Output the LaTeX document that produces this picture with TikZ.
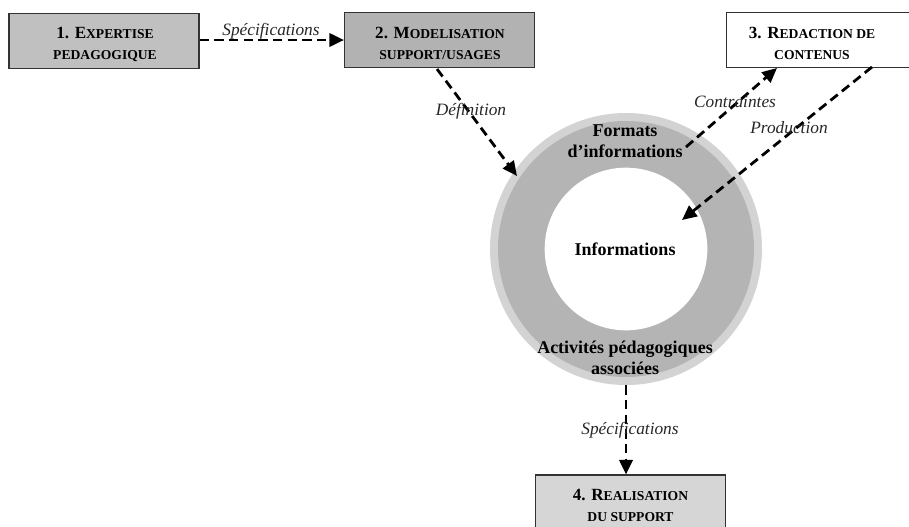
\documentclass[tikz,border=0pt]{standalone}
\usepackage{fontspec}
\setmainfont{Liberation Serif}
\usetikzlibrary{arrows.meta}
\newcommand\smc[1]{{\fontsize{10.2}{11}\selectfont #1}}
\definecolor{boxa}{HTML}{C0C0C0}
\definecolor{boxb}{HTML}{B2B2B2}
\definecolor{boxd}{HTML}{D6D6D6}
\definecolor{ringout}{HTML}{D3D3D3}
\definecolor{ringin}{HTML}{B4B4B4}
\definecolor{edgegray}{HTML}{333333}
\tikzset{
  stagebox/.style={draw=edgegray, line width=0.8pt, minimum width=142.5pt, minimum height=41.5pt,
    inner sep=0pt},
  stagetext/.style={align=center, inner sep=0pt, font=\fontsize{12.8}{15.8}\selectfont\bfseries},
  ringtext/.style={align=center, font=\fontsize{13.5}{15.5}\selectfont\bfseries, inner sep=0pt},
  flowlabel/.style={font=\fontsize{13}{14}\selectfont\itshape, text=black!85, inner sep=0pt},
  flowarrow/.style={draw=black, line width=2.1pt, dash pattern=on 7pt off 4pt,
    -{Triangle[length=11pt,width=10pt]}},
}
\begin{document}
\begin{tikzpicture}[x=0.75pt,y=-0.75pt]
\useasboundingbox (0,0) rectangle (909,526);
\clip (0,0) rectangle (909,526);
% ring
\fill[ringout] (626,249) circle (102pt);
\fill[ringin] (626,249) circle (96pt);
\fill[white] (626,249) circle (61pt);
\node[circle, minimum size=204pt, inner sep=0pt] (ring) at (626,249) {};
\node[ringtext] (formats) at (625,141) {Formats\\d’informations};
\node[ringtext] (infos) at (625,249) {Informations};
\node[ringtext] (activ) at (625,358) {Activités pédagogiques\\associées};
% boxes
\node[stagebox, fill=boxa] (b1) at (104,41) {};
\node[stagetext] (b1t) at (105,44.5) {1. E\smc{XPERTISE}\\\smc{PEDAGOGIQUE}};
\node[stagebox, fill=boxb] (b2) at (439.5,40) {};
\node[stagetext] (b2t) at (440,43) {2. M\smc{ODELISATION}\\\smc{SUPPORT/USAGES}};
\node[stagebox, fill=white, minimum width=145pt] (b3) at (823,40) {};
\node[stagetext] (b3t) at (812,43) {3. R\smc{EDACTION DE}\\\smc{CONTENUS}};
\node[stagebox, fill=boxd, minimum height=45pt] (b4) at (630.5,505) {};
\node[stagetext] (b4t) at (630.5,505) {4. R\smc{EALISATION}\\\smc{DU SUPPORT}};
% connector end points
\coordinate (defS) at (437,69);
\coordinate (defE) at (517,176);
\coordinate (conS) at (686,147);
\coordinate (conE) at (777,68);
\coordinate (proS) at (872,67);
\coordinate (proE) at (682,220);
% arrows
\draw[flowarrow] (b1.east |- 0,40) -- (b2.west);
\draw[flowarrow] (defS) -- (defE);
\draw[flowarrow] (conS) -- (conE);
\draw[flowarrow] (proS) -- (proE);
\draw[flowarrow] (ring.south) -- (ring.south |- b4.north);
% labels
\node[flowlabel] (l1) at (271,31) {Spécifications};
\node[flowlabel] (l2) at (471,111) {Définition};
\node[flowlabel] (l3) at (735,102) {Contraintes};
\node[flowlabel] (l4) at (789,128) {Production};
\node[flowlabel] (l5) at (630,430) {Spécifications};
\end{tikzpicture}
\end{document}
